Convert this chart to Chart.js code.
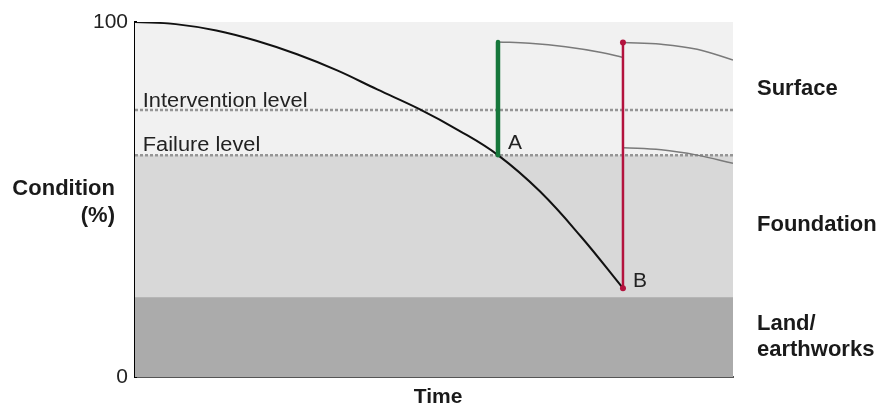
<!DOCTYPE html>
<html>
<head>
<meta charset="utf-8">
<script src="https://cdn.jsdelivr.net/npm/chart.js@4.4.1/dist/chart.umd.min.js"></script>
<style>
  html, body { margin: 0; padding: 0; background: #fff; }
  #wrap { width: 879px; height: 407px; }
</style>
</head>
<body>
<div id="wrap"><canvas id="chart" width="879" height="407"></canvas></div>
<script>
// condition over time (x: 0-100 time units, y: condition %)
const declineTime = [0, 6.8, 13.6, 20.3, 27.1, 33.9, 40.5, 47.4, 54.1, 60.7, 67.7, 74.6, 81.6];
const declineCondition = [100, 99.4, 97.6, 94.7, 90.9, 86.3, 81, 75.6, 69.5, 62.5, 52.3, 39.5, 25];

const afterGreenTime = [60.7, 66, 72, 78, 81.6];
const afterGreenCondition = [94.4, 94, 93, 91.4, 90];

const afterRedTime = [81.6, 88, 94, 100];
const afterRedCondition = [94.2, 93.7, 92.3, 89.3];

const rebuiltTime = [81.6, 88, 94, 100];
const rebuiltCondition = [64.6, 64, 62.5, 60.2];

const interventionLevel = 75.2;
const failureLevel = 62.5;
const earthworksTop = 22.5;

const resurfaceAt = 60.7;   // A
const reconstructAt = 81.6; // B
const treatmentTop = 94.4;

const yTicks = [0, 100];

const toPoints = (xs, ys) => xs.map((x, i) => ({ x: x, y: ys[i] }));
const flat = (y) => [{ x: 0, y: y }, { x: 100, y: y }];

const FONT = "'Liberation Sans', Arial, sans-serif";

// text in the reference is a little wider than Liberation Sans, so stretch it
function drawText(ctx, text, x, y, font, align, sx) {
  ctx.save();
  ctx.font = font;
  ctx.textAlign = align;
  ctx.translate(x, y);
  ctx.scale(sx, 1);
  ctx.fillText(text, 0, 0);
  ctx.restore();
}

const labelsPlugin = {
  id: "labels",
  afterDatasetsDraw(chart) {
    const { ctx, scales: { x, y } } = chart;
    const reg = "20px " + FONT;
    const bold = "bold 22px " + FONT;
    ctx.save();
    ctx.fillStyle = "#222";
    ctx.textBaseline = "alphabetic";

    drawText(ctx, "Intervention level", x.getPixelForValue(1.3), y.getPixelForValue(interventionLevel) - 3, reg, "left", 1.09);
    drawText(ctx, "Failure level", x.getPixelForValue(1.3), y.getPixelForValue(failureLevel) - 4, reg, "left", 1.09);
    drawText(ctx, "A", x.getPixelForValue(resurfaceAt) + 10, y.getPixelForValue(failureLevel) - 6, reg, "left", 1.05);
    drawText(ctx, "B", x.getPixelForValue(reconstructAt) + 10, y.getPixelForValue(declineCondition[declineCondition.length - 1]) - 1, reg, "left", 1.05);

    ctx.fillStyle = "#1a1a1a";
    drawText(ctx, "Surface", 757, 95, bold, "left", 1);
    drawText(ctx, "Foundation", 757, 231, bold, "left", 1);
    drawText(ctx, "Land/", 757, 330, bold, "left", 1);
    drawText(ctx, "earthworks", 757, 356, bold, "left", 1);

    drawText(ctx, "Condition", 115, 195, bold, "right", 1);
    drawText(ctx, "(%)", 115, 222, bold, "right", 1);

    drawText(ctx, "Time", 438, 403, "bold 21px " + FONT, "center", 1);
    ctx.restore();
  }
};

new Chart(document.getElementById("chart"), {
  type: "line",
  data: {
    datasets: [
      {
        label: "Surface band",
        data: flat(100),
        fill: "origin",
        backgroundColor: "#f1f1f1",
        borderWidth: 0,
        pointRadius: 0,
        order: 12
      },
      {
        label: "Foundation band",
        data: flat(failureLevel),
        fill: "origin",
        backgroundColor: "#d8d8d8",
        borderWidth: 0,
        pointRadius: 0,
        order: 11
      },
      {
        label: "Land/earthworks band",
        data: flat(earthworksTop),
        fill: "origin",
        backgroundColor: "#ababab",
        borderWidth: 0,
        pointRadius: 0,
        order: 10
      },
      {
        label: "Intervention level",
        data: flat(interventionLevel),
        borderColor: "#959595",
        borderWidth: 2.5,
        borderDash: [3, 2],
        pointRadius: 0,
        order: 5
      },
      {
        label: "Failure level",
        data: flat(failureLevel),
        borderColor: "#959595",
        borderWidth: 2.5,
        borderDash: [3, 2],
        pointRadius: 0,
        order: 5
      },
      {
        label: "After resurfacing",
        data: toPoints(afterGreenTime, afterGreenCondition),
        borderColor: "#7a7a7a",
        borderWidth: 1.5,
        tension: 0.4,
        pointRadius: 0,
        order: 4
      },
      {
        label: "After reconstruction",
        data: toPoints(afterRedTime, afterRedCondition),
        borderColor: "#7a7a7a",
        borderWidth: 1.5,
        tension: 0.4,
        pointRadius: 0,
        order: 4
      },
      {
        label: "Rebuilt foundation",
        data: toPoints(rebuiltTime, rebuiltCondition),
        borderColor: "#7a7a7a",
        borderWidth: 1.5,
        tension: 0.4,
        pointRadius: 0,
        order: 4
      },
      {
        label: "Decline",
        data: toPoints(declineTime, declineCondition),
        borderColor: "#111",
        borderWidth: 2,
        tension: 0.4,
        pointRadius: 0,
        order: 3
      },
      {
        label: "Resurface at A",
        data: [{ x: resurfaceAt, y: failureLevel }, { x: resurfaceAt, y: treatmentTop }],
        borderColor: "#16773b",
        borderWidth: 4.5,
        borderCapStyle: "round",
        pointRadius: 0,
        order: 1
      },
      {
        label: "Reconstruct at B",
        data: [{ x: reconstructAt, y: declineCondition[declineCondition.length - 1] }, { x: reconstructAt, y: afterRedCondition[0] }],
        borderColor: "#b3123d",
        backgroundColor: "#b3123d",
        borderWidth: 2.5,
        pointRadius: 3,
        pointBorderWidth: 0,
        order: 1
      }
    ]
  },
  options: {
    responsive: false,
    animation: false,
    layout: { padding: { top: 22, right: 146, bottom: 0, left: 0 } },
    plugins: {
      legend: { display: false },
      tooltip: { enabled: false }
    },
    scales: {
      x: {
        type: "linear",
        min: 0,
        max: 100,
        grid: { display: false },
        border: { display: true, color: "#555", width: 2 },
        ticks: { display: false },
        afterFit: (scale) => { scale.height = 30; }
      },
      y: {
        type: "linear",
        min: 0,
        max: 100,
        grid: { display: false, drawTicks: false },
        border: { display: true, color: "#000", width: 3 },
        afterBuildTicks: (scale) => { scale.ticks = yTicks.map((v) => ({ value: v })); },
        ticks: {
          color: "#222",
          padding: 7,
          font: { family: FONT, size: 21 }
        },
        afterFit: (scale) => { scale.width = 135; }
      }
    }
  },
  plugins: [labelsPlugin]
});
</script>
</body>
</html>
